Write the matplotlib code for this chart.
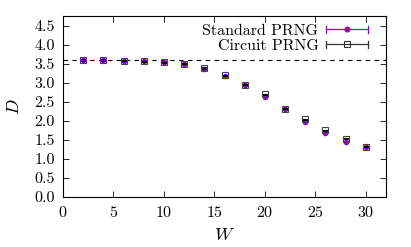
import matplotlib
matplotlib.use("Agg")
import matplotlib.pyplot as plt
from matplotlib.legend_handler import HandlerBase
from matplotlib.lines import Line2D

plt.rcParams["font.family"] = "serif"
plt.rcParams["font.serif"] = ["cmr10"]
plt.rcParams["mathtext.fontset"] = "cm"
plt.rcParams["axes.formatter.use_mathtext"] = True

# data
w = [2, 4, 6, 8, 10, 12, 14, 16, 18, 20, 22, 24, 26, 28, 30]
d_standard = [3.59, 3.59, 3.58, 3.56, 3.53, 3.49, 3.36, 3.17, 2.93, 2.63, 2.30, 1.97, 1.69, 1.45, 1.31]
d_circuit = [3.59, 3.59, 3.58, 3.56, 3.53, 3.50, 3.38, 3.19, 2.95, 2.69, 2.32, 2.04, 1.75, 1.53, 1.32]
err_standard = [0.02] * len(w)
err_circuit = [0.02] * len(w)
d_limit = 3.59

purple = "#9400d3"


class HorizErrHandler(HandlerBase):
    # gnuplot-style key sample: horizontal bar with end caps, marker in the middle
    def __init__(self, color, marker, ms, mfc):
        super().__init__()
        self.color = color
        self.marker = marker
        self.ms = ms
        self.mfc = mfc

    def create_artists(self, legend, orig_handle, xdescent, ydescent, width, height, fontsize, trans):
        y = height / 2 - ydescent
        x0, x1 = -xdescent, width - xdescent
        cap = height * 0.3
        arts = [
            Line2D([x0, x1], [y, y], color=self.color, lw=0.9),
            Line2D([x0, x0], [y - cap, y + cap], color=self.color, lw=0.9),
            Line2D([x1, x1], [y - cap, y + cap], color=self.color, lw=0.9),
            Line2D([(x0 + x1) / 2], [y], marker=self.marker, ms=self.ms,
                   mfc=self.mfc, mec=self.color, mew=0.8, ls="none"),
        ]
        for a in arts:
            a.set_transform(trans)
        return arts


fig = plt.figure(figsize=(4.11, 2.47), dpi=100)
ax = fig.add_axes([63 / 411, 50 / 247, 323 / 411, 181 / 247])

ax.axhline(d_limit, color="black", lw=0.8, ls=(0, (4, 4)))

h1 = ax.errorbar(w, d_standard, yerr=err_standard, fmt="o", color=purple, ms=4,
                 elinewidth=0.9, capsize=2, mew=0, zorder=3)
h2 = ax.errorbar(w, d_circuit, yerr=err_circuit, fmt="s", color="black", ms=5,
                 mfc="none", mec="#444444", mew=0.8, elinewidth=0.9, capsize=2, zorder=4)

ax.set_xlim(0, 32)
ax.set_ylim(0, 4.75)
ax.set_xticks([0, 5, 10, 15, 20, 25, 30])
ax.set_yticks([0.0, 0.5, 1.0, 1.5, 2.0, 2.5, 3.0, 3.5, 4.0, 4.5])
ax.set_yticklabels([f"{v:.1f}" for v in ax.get_yticks()])
ax.tick_params(direction="in", top=True, right=True, length=4, width=0.6, labelsize=11.5)
ax.tick_params(axis="y", pad=6)
ax.tick_params(axis="x", pad=6)
for s in ax.spines.values():
    s.set_linewidth(0.8)

ax.set_xlabel(r"$W$", fontsize=13, labelpad=5)
ax.set_ylabel(r"$D$", fontsize=13, labelpad=9)

leg = ax.legend([h1, h2], ["Standard PRNG", "Circuit PRNG"], loc="upper right",
                bbox_to_anchor=(0.944, 0.957),
                frameon=False, markerfirst=False, fontsize=11.5, handlelength=2.6,
                handletextpad=0.5, labelspacing=0.05, borderaxespad=0, borderpad=0,
                handler_map={h1: HorizErrHandler(purple, "o", 3.5, purple),
                             h2: HorizErrHandler("#333333", "s", 4.5, "none")})

fig.savefig("out.png", dpi=100)
